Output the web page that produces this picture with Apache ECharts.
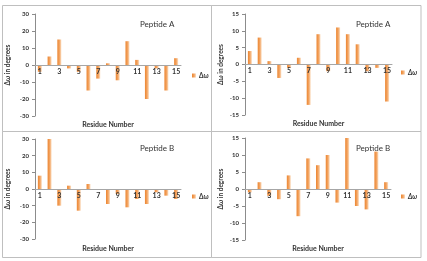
<!DOCTYPE html>
<html>
<head>
<meta charset="utf-8">
<script src="https://cdn.jsdelivr.net/npm/echarts@6/dist/echarts.min.js"></script>
<style>
  html, body { margin: 0; padding: 0; background: #fff; }
  #chart { width: 427px; height: 261px; }
</style>
</head>
<body>
<div id="chart"></div>
<script>
// residue numbers on the x axis
const residues = ["1","2","3","4","5","6","7","8","9","10","11","12","13","14","15"];
// Δω per residue
const peptideALeft = [-4, 5, 15, -2, -4, -15, -8, 1, -9, 14, 3, -20, -2, -15, 4];
const peptideARight = [4, 8, 1, -4, -1, 2, -12, 9, -2, 11, 9, 6, -2, -1, -11];
const peptideBLeft = [8, 30, -10, 2, -13, 3, 0, -9, -3, -11, -6, -9, -2, -4, -6];
const peptideBRight = [-1, 2, -2, -3, 4, -8, 9, 7, 10, -4, 15, -5, -6, 11, 2];

const chart = echarts.init(document.getElementById("chart"));
const font = "Lato, 'Open Sans', sans-serif";
const orange = "#ee8a34";

const grids = [
  { left: 35, top: 14, width: 146, height: 102, outerBoundsMode: "none" },
  { left: 245, top: 14, width: 147, height: 101, outerBoundsMode: "none" },
  { left: 35, top: 139, width: 146, height: 100, outerBoundsMode: "none" },
  { left: 245, top: 138, width: 146, height: 102, outerBoundsMode: "none" }
];
const ranges = [30, 15, 30, 15];
const panelData = [peptideALeft, peptideARight, peptideBLeft, peptideBRight];
const titles = ["Peptide A", "Peptide A", "Peptide B", "Peptide B"];

// the x axis sits on the zero line (the y ranges are symmetric)
function xAxisFor(i) {
  return {
    type: "category",
    gridIndex: i,
    data: residues,
    position: "bottom",
    offset: -grids[i].height / 2,
    z: 5,
    axisLine: { onZero: false, lineStyle: { color: "#a6a6a6", width: 1 } },
    axisTick: { show: false },
    axisLabel: { interval: 1, margin: 3, fontSize: 7, fontWeight: "bold", color: "#333", fontFamily: font },
    name: "Residue Number",
    nameLocation: "middle",
    nameGap: 56,
    nameTextStyle: { fontSize: 7, fontWeight: "bold", color: "#333", fontFamily: font }
  };
}

function yAxisFor(i) {
  const r = ranges[i];
  return {
    type: "value",
    gridIndex: i,
    min: -r,
    max: r,
    interval: r / 3,
    splitLine: { show: false },
    axisLine: { show: true, lineStyle: { color: "#8c8c8c" } },
    axisTick: { show: true, length: 3, lineStyle: { color: "#8c8c8c" } },
    axisLabel: { fontSize: 6, fontWeight: "bold", color: "#333", margin: 6, fontFamily: font },
    name: "Δω in degrees",
    nameLocation: "middle",
    nameGap: i % 2 === 0 ? 24 : 21,
    nameTextStyle: { fontSize: 6.5, fontWeight: "bold", color: "#333", fontFamily: font }
  };
}

const barColor = new echarts.graphic.LinearGradient(0, 0, 1, 0, [
  { offset: 0, color: "#ec8530" },
  { offset: 0.55, color: "#f3a563" },
  { offset: 1, color: "#fbe0c6" }
]);

const series = panelData.map((d, i) => ({
  name: "Δω",
  type: "bar",
  xAxisIndex: i,
  yAxisIndex: i,
  data: d,
  barWidth: 4,
  itemStyle: { color: barColor }
}));

const legendPos = [
  { left: 187, top: 67 },
  { left: 396, top: 64 },
  { left: 187, top: 188 },
  { left: 396, top: 188 }
];

chart.setOption({
  animation: false,
  textStyle: { fontFamily: font },
  grid: grids,
  xAxis: grids.map((g, i) => xAxisFor(i)),
  yAxis: grids.map((g, i) => yAxisFor(i)),
  series: series,
  title: titles.map((t, i) => ({
    text: t,
    left: i % 2 === 0 ? 135 : 351,
    top: i < 2 ? 15 : 139,
    textStyle: { fontSize: 8, fontWeight: "normal", color: "#333", fontFamily: font }
  })),
  legend: legendPos.map((p, i) => ({
    left: p.left,
    top: p.top,
    data: [{ name: "Δω", icon: "rect" }],
    itemWidth: 4,
    itemHeight: 4,
    itemGap: 2,
    textStyle: {
      fontSize: 6.5,
      fontWeight: "bold",
      color: "#333",
      fontStyle: i % 2 === 1 ? "italic" : "normal",
      padding: [0, 0, 0, -2]
    }
  })),
  color: [orange],
  graphic: [
    { type: "rect", shape: { x: 2.5, y: 5.5, width: 209, height: 126 }, style: { fill: null, stroke: "#bfbfbf", lineWidth: 1 } },
    { type: "rect", shape: { x: 211.5, y: 5.5, width: 209.5, height: 126 }, style: { fill: null, stroke: "#bfbfbf", lineWidth: 1 } },
    { type: "rect", shape: { x: 2.5, y: 131.5, width: 209, height: 126 }, style: { fill: null, stroke: "#bfbfbf", lineWidth: 1 } },
    { type: "rect", shape: { x: 211.5, y: 131.5, width: 209.5, height: 126 }, style: { fill: null, stroke: "#bfbfbf", lineWidth: 1 } }
  ]
});
</script>
</body>
</html>
